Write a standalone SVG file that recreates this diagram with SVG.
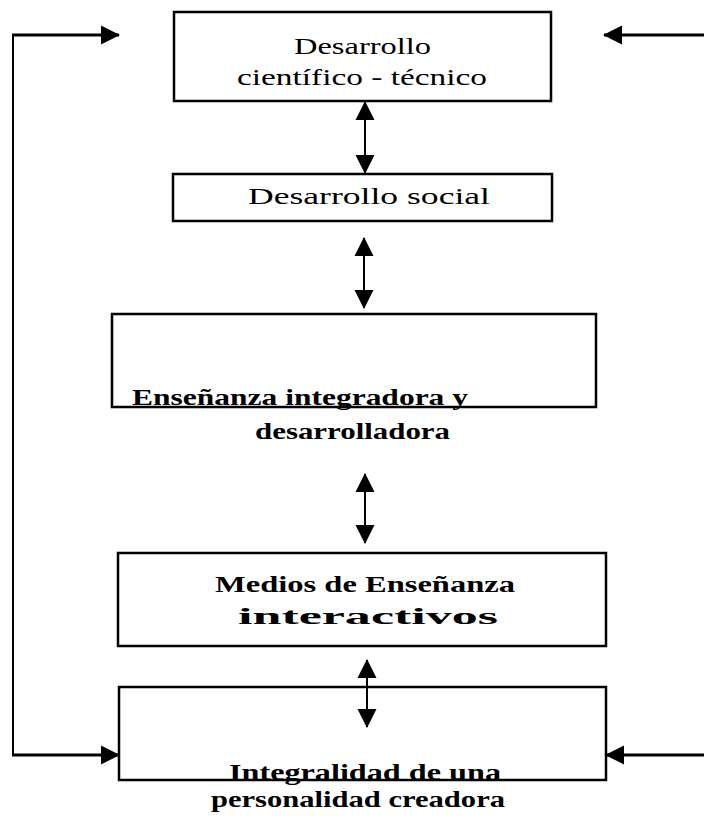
<svg xmlns="http://www.w3.org/2000/svg" width="704" height="819" viewBox="0 0 704 819">
<defs>
<style>
.box{fill:none;stroke:#000;stroke-width:2.5}
.lbl{font-family:"Liberation Serif","DejaVu Serif",serif;font-size:23px;fill:#000}
.b{font-weight:bold}
.link{fill:none;stroke:#000;stroke-width:2}
.loop{fill:none;stroke:#000;stroke-width:3}
</style>
<marker id="ah" viewBox="0 0 20 22" refX="19" refY="11" markerWidth="19" markerHeight="22" markerUnits="userSpaceOnUse" orient="auto-start-reverse">
<path d="M0,1 L20,11 L0,21 z" fill="#000"/>
</marker>
</defs>
<rect width="704" height="819" fill="#fff"/>
<g id="connectors">
<polyline class="link" points="13,35 13,755"/>
<line class="loop" x1="12" y1="35" x2="119" y2="35" marker-end="url(#ah)"/>
<line class="loop" x1="12" y1="755" x2="119" y2="755" marker-end="url(#ah)"/>
<line class="loop" x1="704" y1="35" x2="604" y2="35" marker-end="url(#ah)"/>
<line class="loop" x1="704" y1="755" x2="606" y2="755" marker-end="url(#ah)"/>
<line class="link" x1="365" y1="102" x2="365" y2="173" marker-start="url(#ah)" marker-end="url(#ah)"/>
<line class="link" x1="364" y1="238" x2="364" y2="308" marker-start="url(#ah)" marker-end="url(#ah)"/>
<line class="link" x1="365" y1="474" x2="365" y2="543" marker-start="url(#ah)" marker-end="url(#ah)"/>
<line class="link" x1="367" y1="660" x2="367" y2="727" marker-start="url(#ah)" marker-end="url(#ah)"/>
</g>
<g id="n1">
<rect class="box" x="174" y="12" width="377" height="89"/>
<text class="lbl" x="294" y="54" textLength="137" lengthAdjust="spacingAndGlyphs">Desarrollo</text>
<text class="lbl" x="237" y="85" textLength="250" lengthAdjust="spacingAndGlyphs">científico - técnico</text>
</g>
<g id="n2">
<rect class="box" x="173" y="174" width="379" height="47"/>
<text class="lbl" x="248" y="204" textLength="242" lengthAdjust="spacingAndGlyphs">Desarrollo social</text>
</g>
<g id="n3">
<rect class="box" x="112" y="314" width="484" height="93"/>
<text class="lbl b" x="132" y="405" textLength="336" lengthAdjust="spacingAndGlyphs">Enseñanza integradora y</text>
<text class="lbl b" x="255" y="439" textLength="195" lengthAdjust="spacingAndGlyphs">desarrolladora</text>
</g>
<g id="n4">
<rect class="box" x="118" y="553" width="488" height="93"/>
<text class="lbl b" x="215" y="592" textLength="300" lengthAdjust="spacingAndGlyphs">Medios de Enseñanza</text>
<text class="lbl b" x="238" y="624" textLength="260" lengthAdjust="spacingAndGlyphs">interactivos</text>
</g>
<g id="n5">
<rect class="box" x="119" y="687" width="487" height="93"/>
<text class="lbl b" x="229" y="780" textLength="272" lengthAdjust="spacingAndGlyphs">Integralidad de una</text>
<text class="lbl b" x="211" y="807" textLength="294" lengthAdjust="spacingAndGlyphs">personalidad creadora</text>
</g>
</svg>
